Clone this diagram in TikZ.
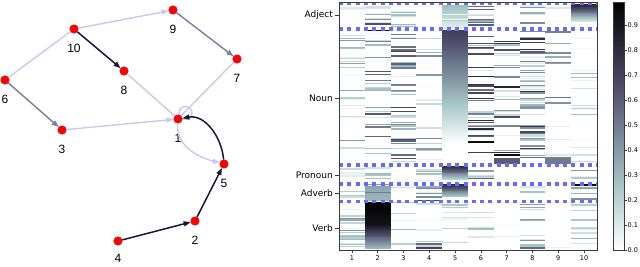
\documentclass[tikz,border=0pt]{standalone}
\usepackage{fontspec}
\usepackage{xcolor}
\setmainfont{Liberation Sans}
\newfontfamily\plotfont{DejaVu Sans}
\usetikzlibrary{positioning,arrows.meta}

\definecolor{nodered}{RGB}{255,0,0}
\definecolor{edgelight}{RGB}{200,200,243}
\definecolor{edgemid}{RGB}{122,124,160}
\definecolor{edgedark}{RGB}{22,22,55}
\definecolor{sepblue}{RGB}{105,105,250}
\definecolor{axisgray}{RGB}{60,60,60}

\newcommand\bonecol[2]{%
  \pgfmathsetmacro\bct{1-(#2)}%
  \pgfmathsetmacro\bcr{\bct<0.746 ? 0.875*\bct : 0.6528+(\bct-0.746)*1.3672}%
  \pgfmathsetmacro\bcg{\bct<0.365 ? 0.875*\bct : (\bct<0.746 ? 0.3194+(\bct-0.365)*1.2021 : 0.7778+(\bct-0.746)*0.8748)}%
  \pgfmathsetmacro\bcb{\bct<0.365 ? 1.2174*\bct : 0.4444+(\bct-0.365)*0.875}%
  \definecolor{#1}{rgb}{\bcr,\bcg,\bcb}}
\newcommand\heatcell[4]{%
  \bonecol{cellcol}{#4}%
  \fill[cellcol] ({339+(#1-1)*25.8},{-(#2)}) rectangle ++(25.8,{-(#3)});}
\newcommand\heatstripes[5]{%
  \foreach \k in {1,...,#4}{%
    \pgfmathsetmacro\hsy{#2+rnd*(#3-#2-1.5)}%
    \pgfmathsetmacro\hsv{#5*rnd}%
    \heatcell{#1}{\hsy}{1.3}{\hsv}}}
\newcommand\heatgrad[5]{%
  \pgfmathtruncatemacro\hgn{#3-#2}%
  \foreach \s in {0,...,\hgn}{%
    \pgfmathsetmacro\hgy{#2+\s*(#3-#2)/(\hgn+1)}%
    \pgfmathsetmacro\hgv{#4+(#5-#4)*\s/\hgn}%
    \heatcell{#1}{\hgy}{1.3}{\hgv}}}

\begin{document}
\begin{tikzpicture}[x=1pt, y=1pt,
    vertex/.style={circle, fill=nodered, draw=red!75!black, line width=0.3pt, minimum size=8.6pt, inner sep=0pt},
    vlabel/.style={font=\fontsize{12}{12}\selectfont, inner sep=0pt},
    label distance=10.5pt,
    arr/.style={-{Triangle[length=7pt,width=5pt]}},
    lightedge/.style={draw=edgelight, line width=1.4pt},
    midedge/.style={draw=edgemid, line width=1.4pt},
    darkedge/.style={draw=edgedark, line width=1.5pt},
    sepline/.style={draw=sepblue, line width=3.5pt, dash pattern=on 4pt off 4.3pt},
    axisline/.style={draw=axisgray, line width=0.6pt},
    catlbl/.style={font=\plotfont\fontsize{9}{11}\selectfont, anchor=east, inner sep=0pt},
    ticklbl/.style={font=\plotfont\fontsize{6.5}{8}\selectfont, inner sep=0pt}]
\useasboundingbox (0,0) rectangle (640,-266);

\coordinate (loop1) at (185.5,-113);
\draw[lightedge] (loop1) circle (6.5);

\node[vertex, label={[vlabel]below:9}] (n9) at (173,-10) {};
\node[vertex, label={[vlabel]below:10}] (n10) at (74,-29) {};
\node[vertex, label={[vlabel]below:7}] (n7) at (237,-59) {};
\node[vertex, label={[vlabel]below:8}] (n8) at (124,-71) {};
\node[vertex, label={[vlabel]below:6}] (n6) at (5,-80) {};
\node[vertex, label={[vlabel]below:1}] (n1) at (178,-119) {};
\node[vertex, label={[vlabel]below:3}] (n3) at (62,-130) {};
\node[vertex, label={[vlabel]below:5}] (n5) at (224,-164) {};
\node[vertex, label={[vlabel]below:2}] (n2) at (195,-221) {};
\node[vertex, label={[vlabel, label distance=9pt]below:4}] (n4) at (118,-241) {};

\draw[lightedge, arr] (n10) -- (n9);
\draw[midedge, arr] (n9) -- (n7);
\draw[darkedge, arr] (n10) -- (n8);
\draw[lightedge] (n6) -- (n10);
\draw[midedge, arr] (n6) -- (n3);
\draw[lightedge, arr] (n3) -- (n1);
\draw[lightedge] (n8) -- (n1);
\draw[lightedge] (n7) -- (n1);
\draw[lightedge, arr] (n1) to[out=-95, in=165] (n5);
\draw[darkedge, arr] (n5) to[out=95, in=10] (n1);
\draw[darkedge, arr] (n4) -- (n2);
\draw[darkedge, arr] (n2) -- (n5);

\pgfmathsetseed{7}
\heatstripes{1}{5}{28}{3}{0.12}
\heatstripes{2}{5}{28}{9}{0.6}
\heatstripes{3}{5}{28}{9}{0.35}
\heatstripes{4}{5}{28}{1}{0.05}
\heatgrad{5}{5}{29}{0.28}{0.08}
\heatstripes{5}{5}{28}{3}{0.3}
\heatstripes{6}{5}{28}{9}{0.6}
\heatstripes{7}{5}{28}{1}{0.05}
\heatstripes{8}{5}{28}{10}{0.45}
\heatstripes{9}{5}{28}{3}{0.15}
\heatgrad{10}{4}{22}{0.85}{0.12}
\heatcell{2}{23}{1.5}{0.65}
\heatcell{6}{24}{1.5}{0.6}

\heatstripes{1}{30}{164}{22}{0.45}
\heatstripes{2}{30}{164}{26}{0.65}
\heatstripes{3}{30}{164}{45}{0.7}
\heatstripes{4}{30}{164}{18}{0.5}
\heatgrad{5}{30}{145}{0.72}{0.0}
\heatstripes{6}{30}{164}{35}{0.85}
\heatstripes{7}{30}{164}{32}{0.85}
\heatstripes{8}{30}{164}{55}{0.9}
\heatstripes{9}{30}{164}{14}{0.55}
\heatstripes{10}{30}{164}{18}{0.3}
\heatcell{2}{29.5}{1.5}{0.95}
\heatcell{6}{141}{1.5}{0.95}
\heatcell{7}{154}{1.5}{0.95}
\heatcell{7}{158}{6}{0.6}
\heatcell{9}{159}{5}{0.5}

\heatstripes{1}{166}{182}{4}{0.2}
\heatstripes{2}{166}{182}{5}{0.3}
\heatstripes{3}{166}{182}{1}{0.05}
\heatstripes{4}{166}{182}{7}{0.6}
\heatgrad{5}{166}{180}{0.8}{0.2}
\heatstripes{6}{166}{182}{6}{0.6}
\heatstripes{8}{166}{182}{1}{0.06}
\heatstripes{10}{166}{182}{7}{0.5}

\heatstripes{1}{184}{200}{6}{0.3}
\heatgrad{2}{184}{201}{0.38}{0.3}
\heatstripes{2}{184}{200}{5}{0.55}
\heatstripes{3}{184}{200}{3}{0.15}
\heatstripes{4}{184}{200}{7}{0.45}
\heatgrad{5}{184}{197}{0.8}{0.25}
\heatstripes{6}{184}{200}{2}{0.1}
\heatstripes{7}{184}{200}{1}{0.05}
\heatstripes{8}{184}{200}{3}{0.3}
\heatstripes{9}{184}{200}{1}{0.05}
\heatstripes{10}{184}{200}{7}{0.45}
\heatcell{10}{184}{1.5}{0.98}
\heatcell{4}{199.5}{1.5}{0.7}

\heatstripes{1}{202}{249}{16}{0.45}
\heatstripes{1}{230}{249}{6}{0.5}
\heatgrad{2}{202}{224}{0.99}{0.92}
\heatgrad{2}{224}{249}{0.92}{0.3}
\heatstripes{3}{202}{249}{6}{0.3}
\heatstripes{4}{202}{249}{8}{0.3}
\heatstripes{5}{202}{249}{10}{0.25}
\heatstripes{6}{202}{249}{6}{0.3}
\heatstripes{7}{202}{249}{2}{0.1}
\heatstripes{8}{202}{249}{10}{0.45}
\heatstripes{9}{202}{249}{2}{0.1}
\heatstripes{10}{202}{249}{13}{0.35}
\heatcell{4}{243}{1.5}{0.55}
\heatcell{4}{247}{1.5}{0.7}
\heatcell{8}{247}{1.5}{0.55}

\foreach \yy in {3.5,29,165,184,201.5}
  \draw[sepline] (339,-\yy) -- (597,-\yy);
\draw[axisline] (339,-2) rectangle (597,-250);

\foreach \cat/\yy in {Adject/15, Noun/98, Pronoun/175, Adverb/193, Verb/228}{
  \draw[axisline] (335,-\yy) -- (339,-\yy);
  \node[catlbl] (lbl\cat) at (333,-\yy) {\cat};
}
\foreach \c in {1,...,10}{
  \draw[axisline] ({339+(\c-0.5)*25.8},-250) -- ++(0,-3);
  \node[ticklbl] (xt\c) at ({339+(\c-0.5)*25.8},-258) {\c};
}

\foreach \s in {0,...,123}{
  \pgfmathsetmacro\cbv{(\s+0.5)*2/250}
  \bonecol{cbcol}{\cbv}
  \fill[cbcol] (613,{-250+2*\s}) rectangle (624,{-250+2*\s+2.1});
}
\draw[axisline] (613,-2) rectangle (624,-250);
\foreach \t in {0,...,9}{
  \draw[axisline] (624,{-250+25*\t}) -- ++(3,0);
  \node[ticklbl, anchor=west] (cb\t) at (627.5,{-250+25*\t}) {0.\t};
}
\end{tikzpicture}
\end{document}
